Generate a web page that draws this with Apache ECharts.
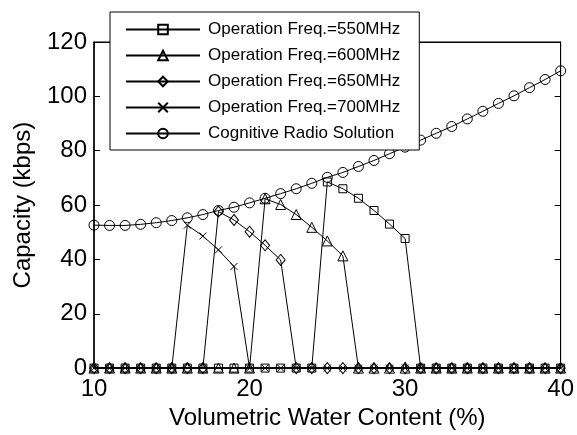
<!DOCTYPE html>
<html>
<head>
<meta charset="utf-8">
<script src="https://cdn.jsdelivr.net/npm/echarts@6/dist/echarts.min.js"></script>
<style>
  html, body { margin: 0; padding: 0; background: #fff; }
  #chart { width: 577px; height: 435px; }
</style>
</head>
<body>
<div id="chart"></div>
<script>
// volumetric water content (%)
var waterContent = [10, 11, 12, 13, 14, 15, 16, 17, 18, 19, 20, 21, 22, 23, 24, 25,
                    26, 27, 28, 29, 30, 31, 32, 33, 34, 35, 36, 37, 38, 39, 40];

var freq550 = [0, 0, 0, 0, 0, 0, 0, 0, 0, 0, 0, 0, 0, 0, 0, 68.5,
               66, 62.5, 58, 53, 47.7, 0, 0, 0, 0, 0, 0, 0, 0, 0, 0];
var freq600 = [0, 0, 0, 0, 0, 0, 0, 0, 0, 0, 0, 62.3, 60.2, 56.5, 51.8, 46.8,
               41.3, 0, 0, 0, 0, 0, 0, 0, 0, 0, 0, 0, 0, 0, 0];
var freq650 = [0, 0, 0, 0, 0, 0, 0, 0, 57.6, 54.5, 50.2, 45.2, 39.8, 0, 0, 0,
               0, 0, 0, 0, 0, 0, 0, 0, 0, 0, 0, 0, 0, 0, 0];
var freq700 = [0, 0, 0, 0, 0, 0, 52.6, 48.6, 43.5, 37.4, 0, 0, 0, 0, 0, 0,
               0, 0, 0, 0, 0, 0, 0, 0, 0, 0, 0, 0, 0, 0, 0];
var cognitive = [52.6, 52.5, 52.5, 52.9, 53.5, 54.3, 55.3, 56.5, 58, 59.2, 60.8, 62.5, 64.2, 66, 68, 70.2,
                 72, 74.2, 76.4, 78.9, 81.3, 83.9, 86.4, 88.9, 91.7, 94.5, 97.4, 100.2, 103.2, 106.2, 109.4];

var seriesNames = ['Operation Freq.=550MHz', 'Operation Freq.=600MHz', 'Operation Freq.=650MHz',
                   'Operation Freq.=700MHz', 'Cognitive Radio Solution'];

function pairs(vals) {
    return waterContent.map(function (x, i) { return [x, vals[i]]; });
}

var font = '"Liberation Sans", Arial, Helvetica, sans-serif';
var crossPath = 'path://M0,0L10,10M10,0L0,10';

function makeSeries(name, vals, symbol, size) {
    return {
        name: name,
        type: 'line',
        data: pairs(vals),
        symbol: symbol,
        symbolSize: size,
        showAllSymbol: true,
        lineStyle: { color: '#000', width: 1 },
        itemStyle: { color: 'transparent', borderColor: '#000', borderWidth: 1 },
        emphasis: { disabled: true }
    };
}

var chart = echarts.init(document.getElementById('chart'));
var option = {
    animation: false,
    backgroundColor: '#fff',
    textStyle: { fontFamily: font },
    grid: { left: 94, right: 14, top: 42, bottom: 63, show: true, borderColor: '#000', borderWidth: 1 },
    legend: {
        orient: 'vertical',
        left: 110,
        top: 12,
        padding: [9, 19, 8, 15],
        itemWidth: 74,
        itemHeight: 12,
        itemGap: 9,
        backgroundColor: '#fff',
        borderColor: '#000',
        borderWidth: 1,
        textStyle: { fontSize: 17, color: '#000', fontFamily: font, padding: [0, 0, 0, 3] },
        data: seriesNames
    },
    xAxis: [{
        type: 'value',
        min: 10, max: 40, interval: 10,
        name: 'Volumetric Water Content (%)',
        nameLocation: 'middle',
        nameGap: 36,
        nameTextStyle: { fontSize: 24, color: '#000', fontFamily: font },
        axisLine: { onZero: false, lineStyle: { color: '#000', width: 1.5 } },
        axisTick: { inside: true, length: 6, lineStyle: { color: '#000' } },
        axisLabel: { fontSize: 24, color: '#000', margin: 9, fontFamily: font },
        splitLine: { show: false }
    }, {
        type: 'value',
        position: 'top',
        min: 10, max: 40, interval: 10,
        axisLine: { onZero: false, lineStyle: { color: '#000', width: 1 } },
        axisTick: { inside: true, length: 6, lineStyle: { color: '#000' } },
        axisLabel: { show: false },
        splitLine: { show: false }
    }],
    yAxis: [{
        type: 'value',
        min: 0, max: 120, interval: 20,
        name: 'Capacity (kbps)',
        nameLocation: 'middle',
        nameGap: 59,
        nameTextStyle: { fontSize: 24, color: '#000', fontFamily: font },
        axisLine: { onZero: false, lineStyle: { color: '#000', width: 1.5 } },
        axisTick: { inside: true, length: 6, lineStyle: { color: '#000' } },
        axisLabel: { fontSize: 24, color: '#000', margin: 7, fontFamily: font },
        splitLine: { show: false }
    }, {
        type: 'value',
        position: 'right',
        min: 0, max: 120, interval: 20,
        axisLine: { onZero: false, lineStyle: { color: '#000', width: 1 } },
        axisTick: { inside: true, length: 6, lineStyle: { color: '#000' } },
        axisLabel: { show: false },
        splitLine: { show: false }
    }],
    series: [
        makeSeries(seriesNames[0], freq550, 'rect', 8),
        makeSeries(seriesNames[1], freq600, 'triangle', 10),
        makeSeries(seriesNames[2], freq650, 'diamond', [9, 11]),
        makeSeries(seriesNames[3], freq700, crossPath, 7),
        makeSeries(seriesNames[4], cognitive, 'circle', 10)
    ]
};
chart.setOption(option);
</script>
</body>
</html>
